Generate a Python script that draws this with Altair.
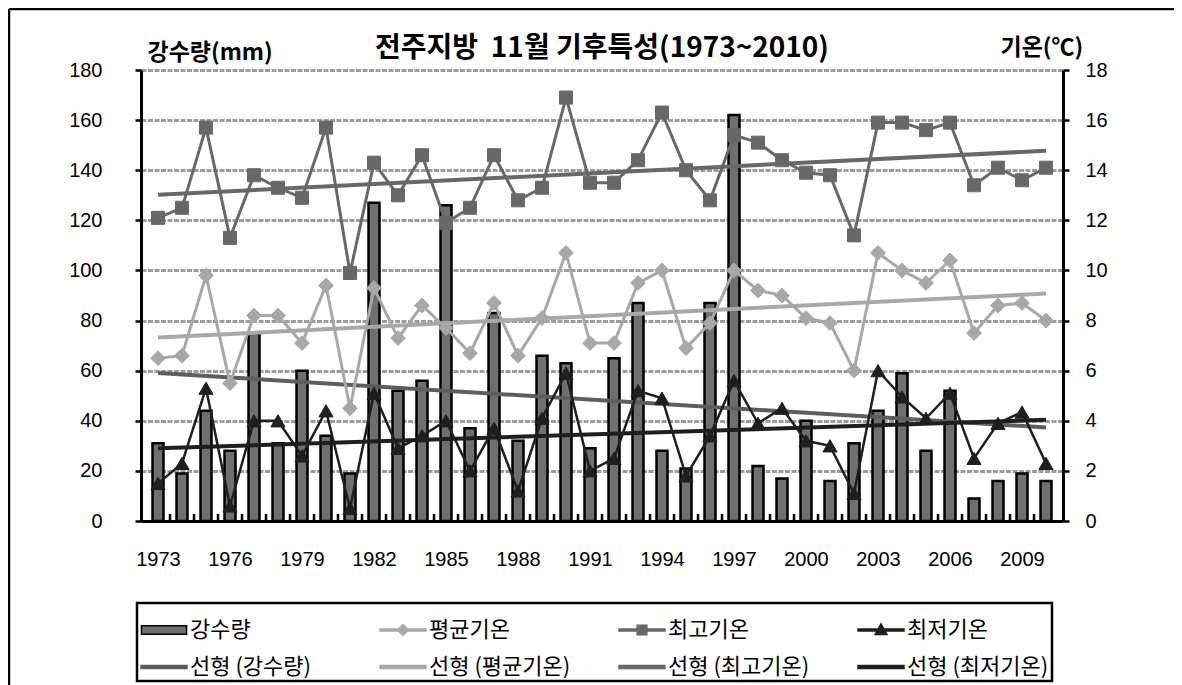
import altair as alt
import pandas as pd

years = list(range(1973, 2011))
precip = [31, 19, 44, 28, 75, 31, 60, 34, 19, 127,
          52, 56, 126, 37, 83, 32, 66, 63, 29, 65,
          87, 28, 21, 87, 162, 22, 17, 40, 16, 31,
          44, 59, 28, 52, 9, 16, 19, 16]
tmean = [6.5, 6.6, 9.8, 5.5, 8.2, 8.2, 7.1, 9.4, 4.5, 9.3,
         7.3, 8.6, 7.7, 6.7, 8.7, 6.6, 8.1, 10.7, 7.1, 7.1,
         9.5, 10.0, 6.9, 7.9, 10.0, 9.2, 9.0, 8.1, 7.9, 6.0,
         10.7, 10.0, 9.5, 10.4, 7.5, 8.6, 8.7, 8.0]
tmax = [12.1, 12.5, 15.7, 11.3, 13.8, 13.3, 12.9, 15.7, 9.9, 14.3,
        13.0, 14.6, 11.9, 12.5, 14.6, 12.8, 13.3, 16.9, 13.5, 13.5,
        14.4, 16.3, 14.0, 12.8, 15.4, 15.1, 14.4, 13.9, 13.8, 11.4,
        15.9, 15.9, 15.6, 15.9, 13.4, 14.1, 13.6, 14.1]
tmin = [1.5, 2.3, 5.3, 0.6, 4.0, 4.0, 2.6, 4.4, 0.5, 5.1,
        2.9, 3.4, 4.0, 2.0, 3.7, 1.2, 4.1, 5.9, 2.0, 2.5,
        5.2, 4.9, 1.8, 3.4, 5.6, 3.9, 4.5, 3.2, 3.0, 1.1,
        6.0, 4.95, 4.1, 5.1, 2.5, 3.9, 4.35, 2.3]
year_labels = [1973, 1976, 1979, 1982, 1985, 1988, 1991, 1994, 1997, 2000, 2003, 2006, 2009]
precip_ticks = [0, 20, 40, 60, 80, 100, 120, 140, 160, 180]
temp_ticks = [0, 2, 4, 6, 8, 10, 12, 14, 16, 18]
legend_names = ["강수량", "평균기온", "최고기온", "최저기온",
                "선형 (강수량)", "선형 (평균기온)", "선형 (최고기온)", "선형 (최저기온)"]

C_BAR = "#6f6f6f"
C_MEAN = "#a8a8a8"
C_MAX = "#686868"
C_MIN = "#1f1f1f"
C_TP = "#5e5e5e"

df = pd.DataFrame({"year": years, "precip": precip, "tmean": tmean, "tmax": tmax, "tmin": tmin})
legend_df = pd.DataFrame({"name": legend_names})

W, H = 922, 451
FONT_NUM = "Liberation Sans"
FONT_KR = "Noto Sans CJK KR"

xscale = alt.Scale(domain=[1972.5, 2010.5], nice=False, zero=False)
xaxis = alt.Axis(values=year_labels, format="d", title=None, grid=False, tickSize=0,
                 domainWidth=3, domainColor="black", labelPadding=28, labelFontSize=20,
                 labelFont=FONT_NUM, labelColor="black", labelOverlap=False)
X = alt.X("year:Q", scale=xscale, axis=xaxis)

yl_axis = alt.Axis(values=precip_ticks, title="강수량(mm)", titleAngle=0, titleAlign="left",
                   titleBaseline="middle", titleX=6, titleY=-18, titleFont=FONT_KR, titleFontSize=23,
                   titleFontWeight="bold", titleColor="black", labelFont=FONT_NUM, labelFontSize=20,
                   labelColor="black", labelPadding=33, tickSize=6, tickWidth=2.5, tickColor="black",
                   domainWidth=3, domainColor="black", grid=True, gridColor="#9c9c9c",
                   gridWidth=3, gridDash=[5, 1.5])
yl_scale = alt.Scale(domain=[0, 180], nice=False)

yr_axis = alt.Axis(orient="right", values=temp_ticks, title="기온(℃)", titleAngle=0, titleAlign="left",
                   titleBaseline="middle", titleX=-63, titleY=-23, titleFont=FONT_KR, titleFontSize=23,
                   titleFontWeight="bold", titleColor="black", labelFont=FONT_NUM, labelFontSize=20,
                   labelColor="black", labelPadding=16, tickSize=6, tickWidth=2.5, tickColor="black",
                   domainWidth=3, domainColor="black", grid=False)
yr_scale = alt.Scale(domain=[0, 18], nice=False)

base = alt.Chart(df)

bars = base.mark_bar(size=11, fill=C_BAR, stroke="black", strokeWidth=2.5).encode(
    x=X, y=alt.Y("precip:Q", scale=yl_scale, axis=yl_axis))

precip_trend = base.transform_regression("year", "precip", extent=[1973, 2010]).mark_line(
    color=C_TP, strokeWidth=4).encode(x=X, y=alt.Y("precip:Q", scale=yl_scale, axis=yl_axis))

xticks = base.transform_filter("datum.year < 2010").transform_calculate(
    edge="datum.year + 0.5").mark_rule(color="black", strokeWidth=2.5).encode(
    x=alt.X("edge:Q", scale=xscale, axis=xaxis), y=alt.value(H), y2=alt.value(H - 7))

fill_colors = [C_BAR, C_MEAN, C_MAX, C_MIN, C_TP, C_MEAN, C_MAX, C_MIN]
stroke_colors = ["black", C_MEAN, C_MAX, C_MIN, C_TP, C_MEAN, C_MAX, C_MIN]

leg = alt.Legend(orient="none", legendX=-4, legendY=533, columns=4, direction="horizontal",
                 title=None, labelFont=FONT_KR, labelFontSize=22, labelColor="black",
                 symbolSize=2116, symbolStrokeWidth=1.5, columnPadding=45, rowPadding=2,
                 padding=3, strokeColor="black", gridAlign="all", labelLimit=400, labelOffset=2,
                 fillColor="white", symbolFillColor="white", symbolStrokeColor="black",
                 symbolOpacity=1)
LINE = "M-1,-0.045H1V0.045H-1Z"
TLINE = "M-1,-0.06H1V0.06H-1Z"
shapes = ["M-0.98,-0.19H0.98V0.19H-0.98Z",
          LINE + "M0,-0.24L0.24,0L0,0.24L-0.24,0Z",
          LINE + "M-0.21,-0.21H0.21V0.21H-0.21Z",
          LINE + "M0,-0.27L0.26,0.2H-0.26Z",
          TLINE, TLINE, TLINE, TLINE]
legend_layer = alt.Chart(legend_df).mark_point(filled=True, opacity=0).encode(
    fill=alt.Fill("name:N", scale=alt.Scale(domain=legend_names, range=fill_colors), legend=leg),
    stroke=alt.Stroke("name:N", scale=alt.Scale(domain=legend_names, range=stroke_colors), legend=leg),
    shape=alt.Shape("name:N", scale=alt.Scale(domain=legend_names, range=shapes), legend=leg),
)

frame_top = alt.Chart(alt.Data(values=[{}])).mark_rule(color="black", strokeWidth=2.5).encode(
    x=alt.value(-132), x2=alt.value(1182 - 141), y=alt.value(-61))
frame_left = alt.Chart(alt.Data(values=[{}])).mark_rule(color="black", strokeWidth=2.5).encode(
    x=alt.value(-132), y=alt.value(-61), y2=alt.value(685 - 70))

left = alt.layer(bars, precip_trend, xticks, legend_layer, frame_top, frame_left)


def temp_layers(field, color, shape, size, lw):
    y = alt.Y(f"{field}:Q", scale=yr_scale, axis=yr_axis)
    line = base.mark_line(color=color, strokeWidth=lw).encode(x=X, y=y)
    pts = base.mark_point(shape=shape, filled=True, size=size, fill=color, stroke=color,
                          strokeWidth=1, opacity=1, fillOpacity=1).encode(x=X, y=y)
    return line, pts


mean_l, mean_p = temp_layers("tmean", C_MEAN, "diamond", 220, 3)
max_l, max_p = temp_layers("tmax", C_MAX, "square", 170, 3)
min_l, min_p = temp_layers("tmin", C_MIN, "triangle-up", 200, 2.5)


def trend(field, color):
    return base.transform_regression("year", field, extent=[1973, 2010]).mark_line(
        color=color, strokeWidth=4).encode(x=X, y=alt.Y(f"{field}:Q", scale=yr_scale, axis=yr_axis))


right = alt.layer(mean_l, mean_p, max_l, max_p, min_l, min_p,
                  trend("tmean", C_MEAN), trend("tmax", C_MAX), trend("tmin", C_MIN))

chart = alt.layer(left, right).resolve_scale(y="independent").properties(
    width=W, height=H,
    title=alt.TitleParams("전주지방\u00a0 11월 기후특성(1973~2010)", font=FONT_KR, fontSize=28,
                          fontWeight="bold", anchor="middle", color="black", offset=-55),
    autosize=alt.AutoSizeParams(type="none"),
    padding={"left": 133, "top": 62, "right": 111, "bottom": 164},
).configure_view(stroke=None).configure_legend(strokeWidth=2.5, cornerRadius=0)

chart.save("out.html", embed_options={"renderer": "svg", "actions": False})
